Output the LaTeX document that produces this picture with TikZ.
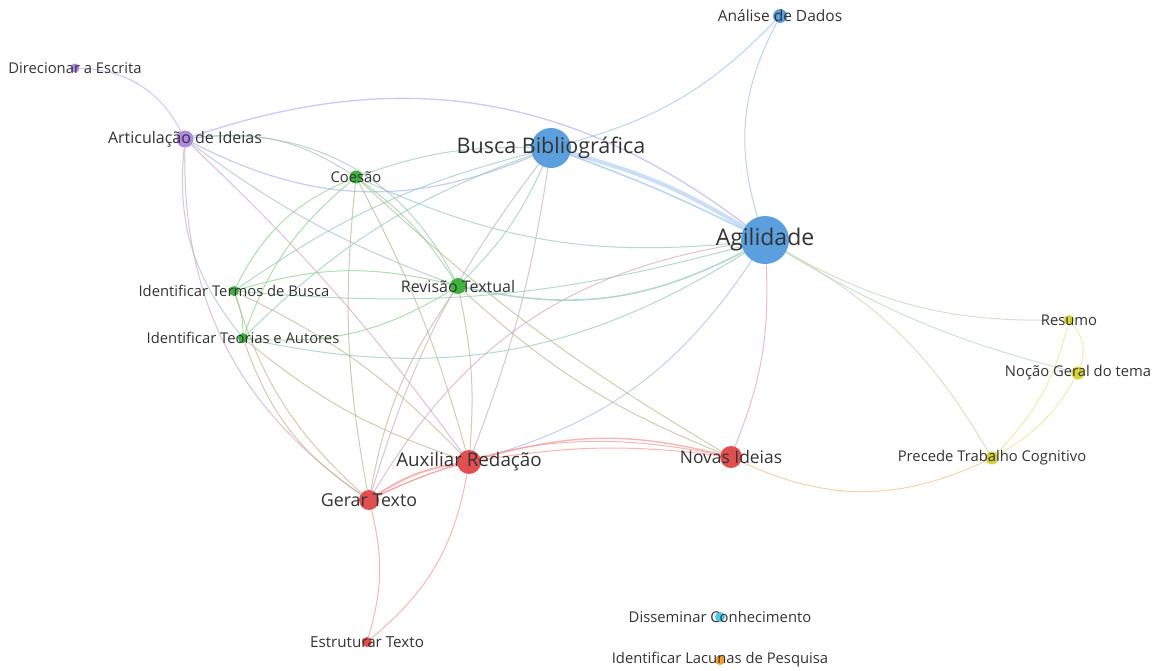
\documentclass[tikz,border=0pt]{standalone}
\usepackage{fontspec}
\setmainfont{Open Sans}
\pgfdeclarelayer{edges}
\pgfsetlayers{edges,main}
\definecolor{nblue}{HTML}{5C9FDF}
\definecolor{nred}{HTML}{E05050}
\definecolor{ngreen}{HTML}{3DB23D}
\definecolor{npurple}{HTML}{AE8AE4}
\definecolor{nyellow}{HTML}{D4D43A}
\definecolor{ncyan}{HTML}{52C6E6}
\definecolor{norange}{HTML}{F0A23A}
\definecolor{eblue}{HTML}{9CC4EC}
\definecolor{ered}{HTML}{F29A9A}
\definecolor{egreen}{HTML}{8ED28E}
\definecolor{epurple}{HTML}{C2AEF2}
\definecolor{eyellow}{HTML}{E6E68C}
\definecolor{lbl}{HTML}{333333}
\tikzset{
  dot/.style={circle, fill=#1, inner sep=0pt},
  lab/.style={text=lbl, inner sep=0pt, font=\fontsize{14.8}{17}\selectfont},
  lnk/.style={draw=#1, opacity=.72, line width=1pt},
}
\begin{document}
\begin{tikzpicture}[x=1pt,y=1pt]
\useasboundingbox (0,0) rectangle (1159,-670);
% nodes
\node[dot=nblue, minimum size=14pt] (ana) at (780,-16) {};
\node[dot=npurple, minimum size=9pt] (dir) at (75,-68) {};
\node[dot=npurple, minimum size=17pt] (art) at (185,-139) {};
\node[dot=nblue, minimum size=40pt] (bus) at (551,-148) {};
\node[dot=ngreen, minimum size=13pt] (coe) at (356,-177) {};
\node[dot=nblue, minimum size=48pt] (agi) at (765,-240) {};
\node[dot=ngreen, minimum size=10pt] (ter) at (234,-291) {};
\node[dot=ngreen, minimum size=16pt] (rev) at (458,-286) {};
\node[dot=ngreen, minimum size=10pt] (teo) at (243,-338) {};
\node[dot=nyellow, minimum size=10pt] (res) at (1069,-320) {};
\node[dot=nyellow, minimum size=13pt] (noc) at (1078,-373) {};
\node[dot=nyellow, minimum size=13pt] (pre) at (992,-458) {};
\node[dot=nred, minimum size=24pt] (aux) at (469,-462) {};
\node[dot=nred, minimum size=22pt] (nov) at (731,-457) {};
\node[dot=nred, minimum size=20pt] (ger) at (369,-500) {};
\node[dot=nred, minimum size=10pt] (est) at (367,-642) {};
\node[dot=ncyan, minimum size=10pt] (dis) at (720,-617) {};
\node[dot=norange, minimum size=10pt] (lac) at (720,-660) {};
% labels
\node[lab, font=\fontsize{15.5}{18}\selectfont] (anaL) at (ana) {Análise de Dados};
\node[lab] (dirL) at (dir) {Direcionar a Escrita};
\node[lab, font=\fontsize{16}{18}\selectfont] (artL) at (art) {Articulação de Ideias};
\node[lab, font=\fontsize{21.5}{24}\selectfont] (busL) at (bus) {Busca Bibliográfica};
\node[lab] (coeL) at (coe) {Coesão};
\node[lab, font=\fontsize{23}{26}\selectfont] (agiL) at (agi) {Agilidade};
\node[lab] (terL) at (ter) {Identificar Termos de Busca};
\node[lab, font=\fontsize{16}{18}\selectfont] (revL) at (rev) {Revisão Textual};
\node[lab] (teoL) at (teo) {Identificar Teorias e Autores};
\node[lab] (resL) at (res) {Resumo};
\node[lab] (nocL) at (noc) {Noção Geral do tema};
\node[lab] (preL) at (pre) {Precede Trabalho Cognitivo};
\node[lab, font=\fontsize{18.8}{21}\selectfont] (auxL) at (aux) {Auxiliar Redação};
\node[lab, font=\fontsize{17.4}{20}\selectfont] (novL) at (nov) {Novas Ideias};
\node[lab, font=\fontsize{17.8}{20}\selectfont] (gerL) at (ger) {Gerar Texto};
\node[lab, font=\fontsize{15.2}{17}\selectfont] (estL) at (est) {Estruturar Texto};
\node[lab] (disL) at (dis) {Disseminar Conhecimento};
\node[lab] (lacL) at (lac) {Identificar Lacunas de Pesquisa};
% edges
\begin{pgfonlayer}{edges}
% blue cluster
\draw[lnk=eblue] (agi) to[bend left=22] (ana);
\draw[lnk=eblue] (bus) to[bend right=15] (ana);
\draw[lnk=eblue, line width=4pt, opacity=.55] (bus) to[bend left=8] (agi);
\draw[lnk=eblue, line width=1.5pt] (bus) to[bend left=3] (agi);
\draw[lnk=eblue!50!eyellow] (agi) to[bend right=15] (res);
\draw[lnk=eblue!60!eyellow] (agi) to[bend right=8] (noc);
\draw[lnk=eblue!40!eyellow] (agi) to[bend left=15] (pre);
\draw[lnk=ered!70!epurple] (agi) to[bend left=12] (nov);
\draw[lnk=eblue!50!epurple] (aux) to[bend right=20] (agi);
\draw[lnk=epurple!50!ered] (ger) to[bend left=25] (agi);
\draw[lnk=eblue!40!egreen, line width=1.6pt] (rev) to[bend right=20] (agi);
\draw[lnk=eblue!50!egreen] (coe) to[bend right=15] (agi);
\draw[lnk=epurple!80!eblue, line width=1.3pt] (art) to[bend left=28] (agi);
\draw[lnk=eblue!40!egreen] (ter) to[bend right=10] (agi);
\draw[lnk=eblue!40!egreen] (teo) to[bend right=22] (agi);
\draw[lnk=epurple!60!eblue, line width=1.2pt] (art) to[bend right=25] (bus);
\draw[lnk=eblue!50!egreen] (coe) to[bend left=10] (bus);
\draw[lnk=eblue!50!egreen] (ter) to[bend left=10] (bus);
\draw[lnk=eblue!50!egreen] (teo) to[bend left=12] (bus);
\draw[lnk=eblue!50!egreen] (rev) to[bend right=10] (bus);
\draw[lnk=eblue!50!ered] (ger) to[bend left=10] (bus);
\draw[lnk=eblue!50!ered] (aux) to[bend right=6] (bus);
% purple
\draw[lnk=epurple] (art) to[bend right=30] (dir);
\draw[lnk=epurple!50!egreen] (art) to[bend left=35] (rev);
\draw[lnk=epurple!50!ered] (art) to[bend left=5] (aux);
\draw[lnk=epurple!50!ered] (art) to[bend right=28] (ger);
\draw[lnk=epurple!50!egreen] (art) to[bend right=22] (teo);
\draw[lnk=epurple!60!egreen] (art) to[bend right=8] (rev);
\draw[lnk=epurple!50!egreen] (art) to[bend left=20] (coe);
% green
\draw[lnk=egreen] (coe) to[bend right=20] (ter);
\draw[lnk=egreen] (coe) to[bend right=15] (teo);
\draw[lnk=egreen] (coe) to[bend left=10] (rev);
\draw[lnk=egreen!60!ered] (coe) to[bend right=8] (ger);
\draw[lnk=egreen!60!ered] (coe) to[bend left=6] (aux);
\draw[lnk=egreen!60!ered] (coe) to[bend right=6] (nov);
\draw[lnk=egreen] (rev) to[bend right=15] (ter);
\draw[lnk=egreen] (rev) to[bend left=18] (teo);
\draw[lnk=egreen!50!ered] (rev) to[bend right=12] (ger);
\draw[lnk=egreen!50!ered] (rev) to[bend left=8] (aux);
\draw[lnk=egreen!50!ered] (rev) to[bend right=10] (nov);
\draw[lnk=egreen] (ter) to[bend left=10] (teo);
\draw[lnk=egreen!50!ered] (ter) to[bend right=15] (ger);
\draw[lnk=egreen!50!ered] (ter) to[bend left=10] (aux);
\draw[lnk=egreen!50!ered] (teo) to[bend right=18] (ger);
\draw[lnk=egreen!50!ered] (teo) to[bend right=10] (aux);
% red
\draw[lnk=ered, line width=2pt] (ger) to[bend left=12] (aux);
\draw[lnk=ered] (ger) to[bend left=5] (aux);
\draw[lnk=ered, line width=1.4pt] (aux) to[bend left=15] (nov);
\draw[lnk=ered] (aux) to[bend left=8] (nov);
\draw[lnk=ered] (ger) to[bend left=18] (nov);
\draw[lnk=ered] (aux) to[bend left=20] (est);
\draw[lnk=ered] (ger) to[bend left=15] (est);
\draw[lnk=ered!50!eyellow] (nov) to[bend right=25] (pre);
% yellow
\draw[lnk=eyellow] (res) to[bend left=30] (noc);
\draw[lnk=eyellow] (res) to[bend left=15] (pre);
\draw[lnk=eyellow] (noc) to[bend left=15] (pre);
\end{pgfonlayer}
\end{tikzpicture}
\end{document}
